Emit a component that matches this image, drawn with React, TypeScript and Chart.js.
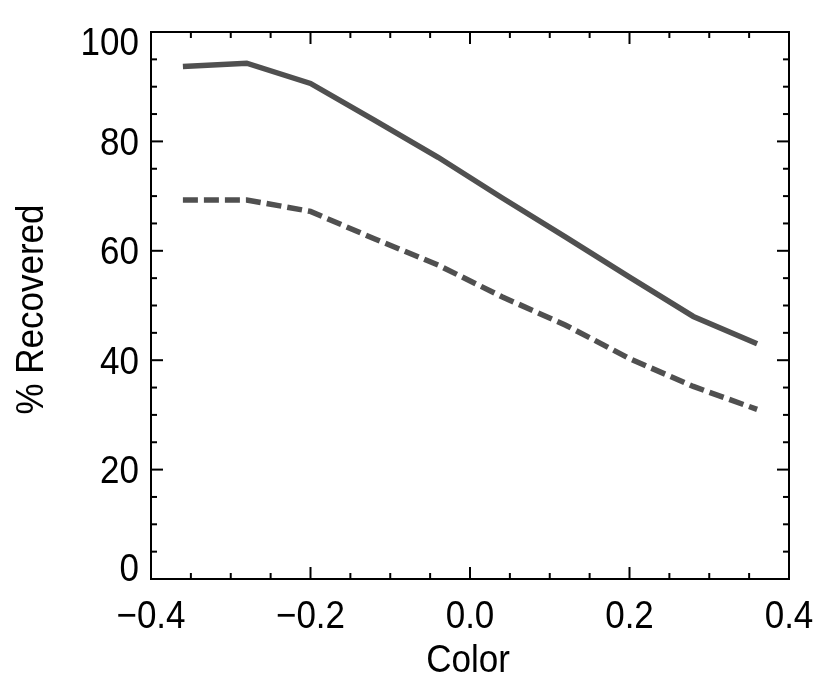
import React, { useEffect, useRef } from "react";
import { Chart, registerables } from "chart.js";

Chart.register(...registerables);

// ---- data ----
const colors = [-0.36, -0.28, -0.2, -0.12, -0.04, 0.04, 0.12, 0.2, 0.28, 0.36];
const recoveredSolid = [93.7, 94.3, 90.6, 83.9, 77.1, 69.7, 62.5, 55.2, 48.0, 43.0];
const recoveredDashed = [69.3, 69.3, 67.2, 62.2, 57.4, 51.6, 46.4, 40.3, 35.2, 31.0];

const xMajorTicks = [-0.4, -0.2, 0.0, 0.2, 0.4];
const xTickLabels = ["\u22120.4", "\u22120.2", "0.0", "0.2", "0.4"];
const xMinorTicks = [-0.35, -0.3, -0.25, -0.15, -0.1, -0.05, 0.05, 0.1, 0.15, 0.25, 0.3, 0.35];
const yMajorTicks = [0, 20, 40, 60, 80, 100];
const yTickLabels = ["0", "20", "40", "60", "80", "100"];
const yMinorTicks = [5, 10, 15, 25, 30, 35, 45, 50, 55, 65, 70, 75, 85, 90, 95];

const xTitle = "Color";
const yTitle = "% Recovered";

const FONT = "35px 'Liberation Sans', Arial, Helvetica, sans-serif";
const STRETCH = 1.1;

const axesPlugin = {
  id: "idlAxes",
  afterDraw(chart: any) {
    const { ctx, chartArea } = chart;
    const xs = chart.scales.x;
    const ys = chart.scales.y;
    const { left, right, top, bottom } = chartArea;
    ctx.save();
    ctx.strokeStyle = "#000";
    ctx.lineWidth = 2;
    ctx.lineCap = "butt";
    ctx.strokeRect(left, top, right - left, bottom - top);

    const tick = (x1: number, y1: number, x2: number, y2: number) => {
      ctx.beginPath();
      ctx.moveTo(x1, y1);
      ctx.lineTo(x2, y2);
      ctx.stroke();
    };
    const MAJ = 12;
    const MIN = 6;
    xMajorTicks.forEach((v) => {
      const px = xs.getPixelForValue(v);
      tick(px, bottom, px, bottom - MAJ);
      tick(px, top, px, top + MAJ);
    });
    xMinorTicks.forEach((v) => {
      const px = xs.getPixelForValue(v);
      tick(px, bottom, px, bottom - MIN);
      tick(px, top, px, top + MIN);
    });
    yMajorTicks.forEach((v) => {
      const py = ys.getPixelForValue(v);
      tick(left, py, left + MAJ, py);
      tick(right, py, right - MAJ, py);
    });
    yMinorTicks.forEach((v) => {
      const py = ys.getPixelForValue(v);
      tick(left, py, left + MIN, py);
      tick(right, py, right - MIN, py);
    });

    ctx.fillStyle = "#000";
    ctx.font = FONT;
    ctx.textBaseline = "alphabetic";

    const text = (s: string, x: number, y: number, align: CanvasTextAlign, rot = 0) => {
      ctx.save();
      ctx.translate(x, y);
      if (rot) ctx.rotate(rot);
      ctx.scale(1, STRETCH);
      ctx.textAlign = align;
      ctx.fillText(s, 0, 0);
      ctx.restore();
    };

    // x tick labels
    xMajorTicks.forEach((v, i) => {
      text(xTickLabels[i], xs.getPixelForValue(v), bottom + 49, "center");
    });

    // y tick labels (end labels kept inside the axis range)
    yMajorTicks.forEach((v, i) => {
      const py = ys.getPixelForValue(v);
      let base = py + 13.5;
      if (i === yMajorTicks.length - 1) base = py + 23;
      if (i === 0) base = py + 2;
      text(yTickLabels[i], left - 12, base, "right");
    });

    // x title
    text(xTitle, (left + right) / 2 - 2, bottom + 93, "center");

    // y title
    text(yTitle, 43, (top + bottom) / 2 + 4, "center", -Math.PI / 2);

    ctx.restore();
  },
};

export default function App() {
  const ref = useRef<HTMLCanvasElement | null>(null);
  useEffect(() => {
    if (!ref.current) return;
    const chart = new Chart(ref.current, {
      type: "line",
      data: {
        datasets: [
          {
            label: "solid",
            data: colors.map((c, i) => ({ x: c, y: recoveredSolid[i] })),
            borderColor: "#505050",
            borderWidth: 5.5,
            pointRadius: 0,
            tension: 0,
            fill: false,
          },
          {
            label: "dashed",
            data: colors.map((c, i) => ({ x: c, y: recoveredDashed[i] })),
            borderColor: "#505050",
            borderWidth: 5.5,
            borderDash: [15, 6],
            pointRadius: 0,
            tension: 0,
            fill: false,
          },
        ],
      },
      options: {
        responsive: false,
        maintainAspectRatio: false,
        animation: false,
        devicePixelRatio: 1,
        layout: { padding: { left: 151, top: 32, right: 41, bottom: 113 } },
        plugins: { legend: { display: false }, tooltip: { enabled: false } },
        scales: {
          x: { type: "linear", min: -0.4, max: 0.4, display: false },
          y: { type: "linear", min: 0, max: 100, display: false },
        },
      },
      plugins: [axesPlugin],
    });
    return () => chart.destroy();
  }, []);
  return (
    <div style={{ position: "fixed", left: 0, top: 0, width: 830, height: 692, background: "#fff" }}>
      <canvas ref={ref} width={830} height={692} style={{ width: 830, height: 692 }} />
    </div>
  );
}
